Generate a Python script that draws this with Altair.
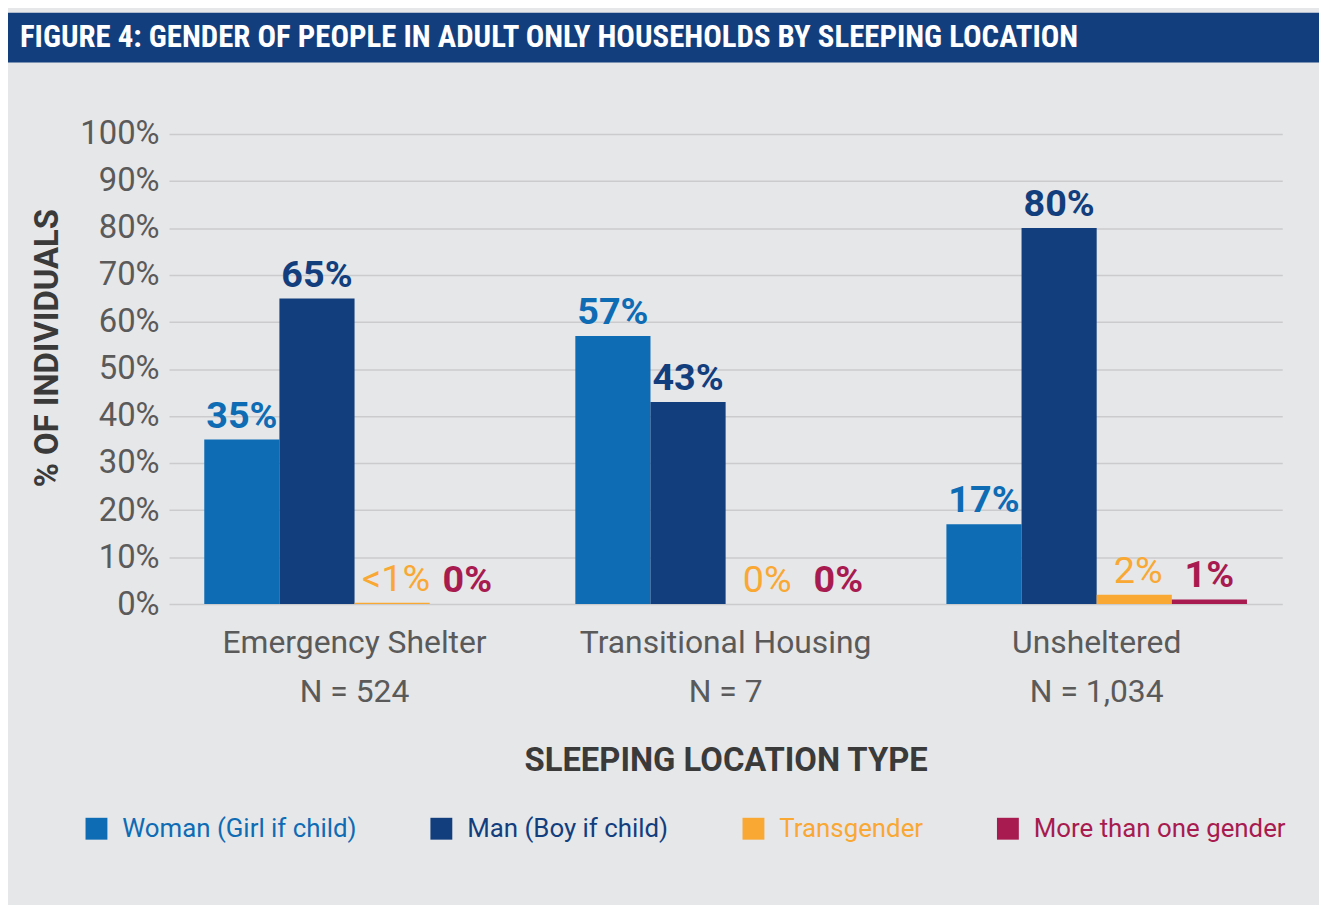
import altair as alt
import pandas as pd

# ---------------- data ----------------
locations = ["Emergency Shelter", "Transitional Housing", "Unsheltered"]
n_counts = ["N = 524", "N = 7", "N = 1,034"]
genders = ["Woman (Girl if child)", "Man (Boy if child)", "Transgender", "More than one gender"]
colors = ["#0e6cb5", "#133e7e", "#f9a833", "#a81b50"]

woman = [35, 57, 17]
man = [65, 43, 80]
trans = [0.3, 0, 2]
multi = [0, 0, 1]

woman_lbl = ["35%", "57%", "17%"]
man_lbl = ["65%", "43%", "80%"]
trans_lbl = ["<1%", "0%", "2%"]
multi_lbl = ["0%", "0%", "1%"]

y_ticks = [0, 10, 20, 30, 40, 50, 60, 70, 80, 90, 100]
title_text = "FIGURE 4: GENDER OF PEOPLE IN ADULT ONLY HOUSEHOLDS BY SLEEPING LOCATION"

rows = []
for g, vals, lbls in zip(genders, [woman, man, trans, multi],
                         [woman_lbl, man_lbl, trans_lbl, multi_lbl]):
    for loc, n, v, l in zip(locations, n_counts, vals, lbls):
        rows.append({"loc": f"{loc}|{n}", "gender": g, "value": v, "label": l})
df = pd.DataFrame(rows)
loc_order = [f"{l}|{n}" for l, n in zip(locations, n_counts)]

W, H = 1120, 473
PAD_L, PAD_T, PAD_R, PAD_B = 162, 124, 37, 300
FONT = "Roboto"

color_scale = alt.Scale(domain=genders, range=colors)

legend_color_expr = "".join(
    f"datum.value === '{g}' ? '{c}' : " for g, c in zip(genders, colors)
) + "'#333333'"

x_enc = alt.X(
    "loc:N", sort=loc_order,
    scale=alt.Scale(paddingInner=0.19, paddingOuter=0.095),
    axis=alt.Axis(
        title="SLEEPING LOCATION TYPE",
        labelExpr="split(datum.label, '|')",
        labelAngle=0, labelFontSize=32, labelColor="#5a5a5a", labelFont=FONT,
        labelLineHeight=49, labelPadding=24, labelBaseline="top", labelLimit=0,
        ticks=False, domain=False, grid=False,
        titleFontSize=33, titleFontWeight="bold", titleColor="#3a3a3a", titleFont=FONT,
        titleY=157, titleBaseline="middle",
    ),
)
y_enc = alt.Y(
    "value:Q",
    scale=alt.Scale(domain=[0, 100]),
    axis=alt.Axis(
        values=y_ticks, labelExpr="datum.value + '%'",
        title="% OF INDIVIDUALS",
        labelFontSize=33, labelColor="#5a5a5a", labelFont=FONT, labelPadding=10,
        ticks=False, domain=False,
        grid=True, gridColor="#cbcbcd", gridWidth=1.5,
        titleFontSize=33, titleFontWeight="bold", titleColor="#3a3a3a", titleFont=FONT,
        titleX=-122, titleY=215, titleAngle=270, titleAlign="center", titleBaseline="middle",
    ),
)
xoff = alt.XOffset("gender:N", sort=genders)

base = alt.Chart(df)

bars = base.mark_bar().encode(
    x=x_enc, y=y_enc, xOffset=xoff,
    color=alt.Color(
        "gender:N", scale=color_scale, sort=genders,
        legend=alt.Legend(
            title=None, orient="none", legendX=-86, legendY=686,
            direction="horizontal", columns=4, columnPadding=72,
            symbolType="square", symbolSize=484, symbolStrokeWidth=0, symbolOpacity=1,
            labelFontSize=26, labelFont=FONT, labelOffset=13, labelLimit=400,
            labelColor=alt.ExprRef(legend_color_expr),
        ),
    ),
)

bold_text = base.transform_filter(
    alt.datum.gender != "Transgender"
).mark_text(
    fontSize=38, fontWeight="bold", font=FONT, baseline="bottom", dy=-4
).encode(
    x=alt.X("loc:N", sort=loc_order), y="value:Q", xOffset=xoff, text="label:N",
    color=alt.Color("gender:N", scale=color_scale, legend=None),
)

thin_text = base.transform_filter(
    alt.datum.gender == "Transgender"
).mark_text(
    fontSize=38, fontWeight="normal", font=FONT, baseline="bottom", dy=-4, dx=4
).encode(
    x=alt.X("loc:N", sort=loc_order), y="value:Q", xOffset=xoff, text="label:N",
    color=alt.Color("gender:N", scale=color_scale, legend=None),
)

title_df = pd.DataFrame({"t": [title_text]})
band = alt.Chart(title_df).mark_rect(color="#133e7e").encode(
    x=alt.value(-PAD_L), x2=alt.value(W + PAD_R),
    y=alt.value(-122), y2=alt.value(-72),
)
title = alt.Chart(title_df).mark_text(
    align="left", baseline="middle", color="white", fontSize=31, fontWeight="bold",
    font="Liberation Sans Narrow, Roboto Condensed, Roboto",
).encode(
    x=alt.value(-150), y=alt.value(-97), text="t:N",
)

chart = alt.layer(band, title, bars, bold_text, thin_text).properties(
    width=W, height=H,
    autosize=alt.AutoSizeParams(type="none"),
    padding={"left": PAD_L, "top": PAD_T, "right": PAD_R, "bottom": PAD_B},
    background="#e6e7e9",
).configure_view(stroke=None)

chart.save("out.html", embed_options={"renderer": "svg", "actions": False})
